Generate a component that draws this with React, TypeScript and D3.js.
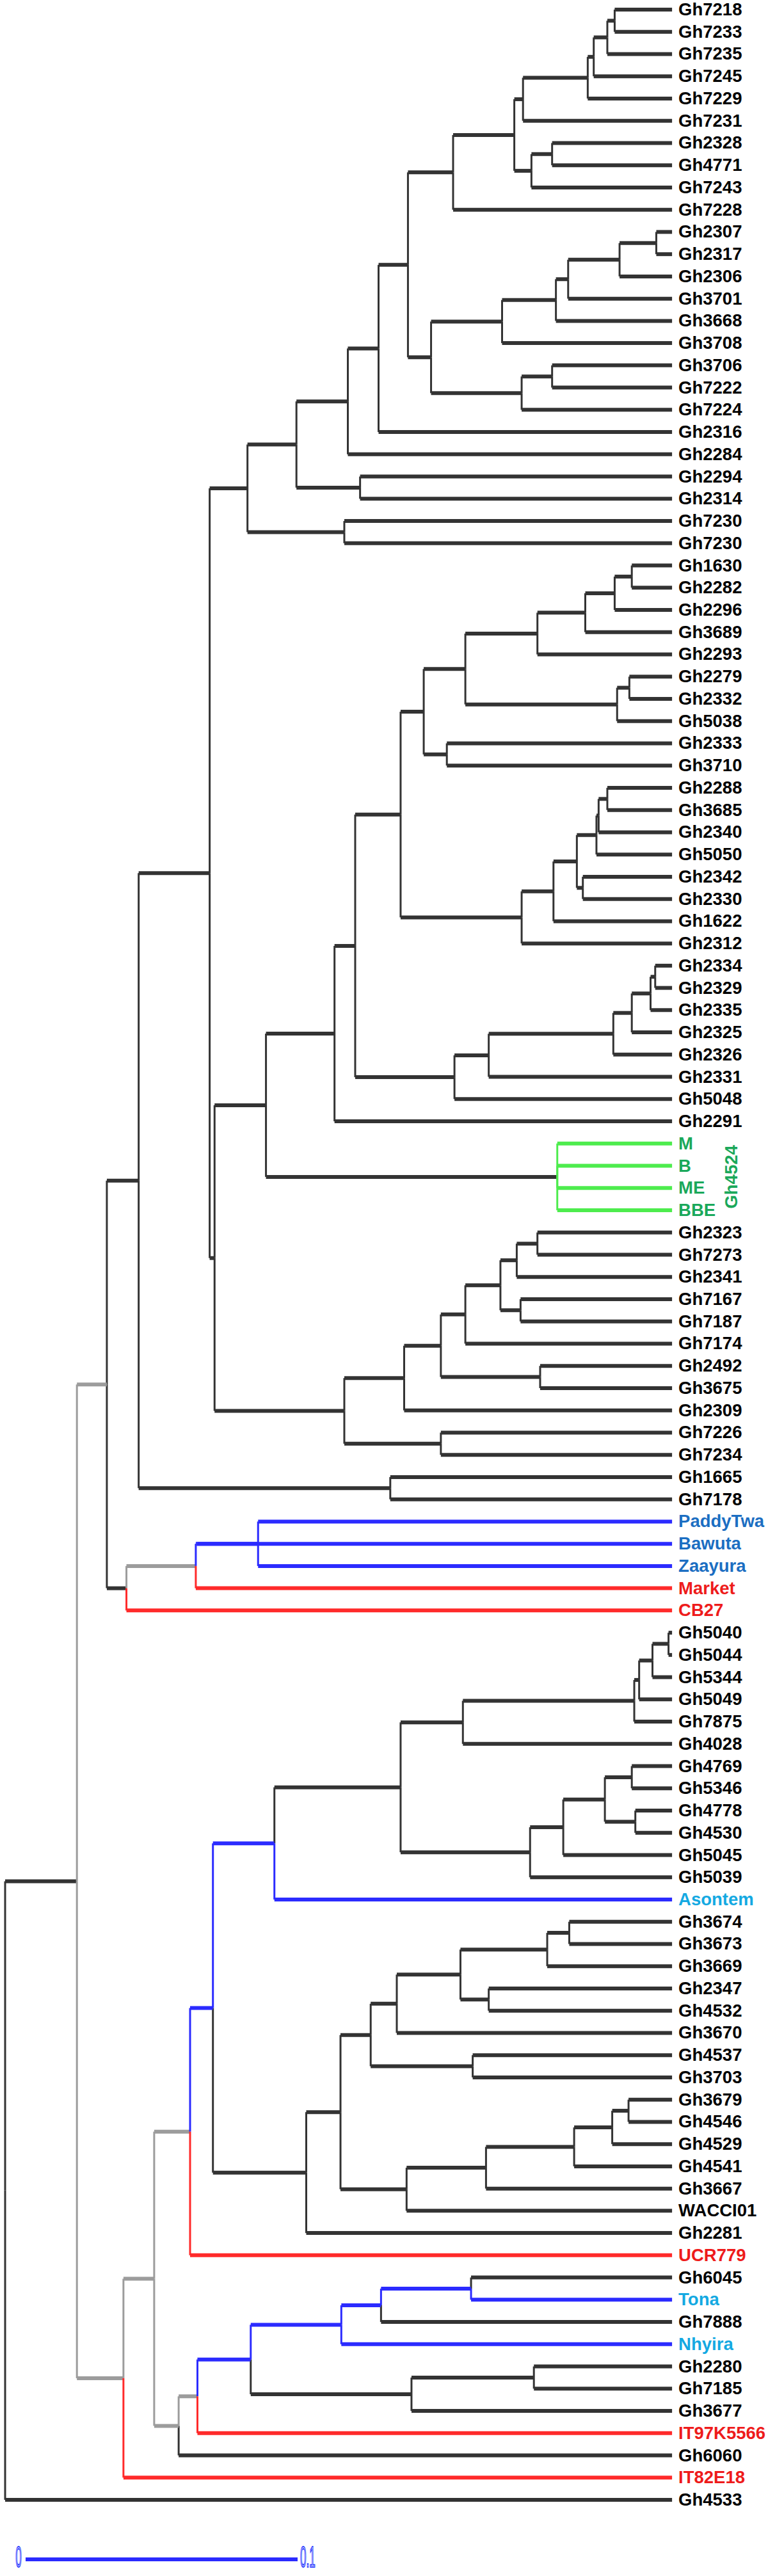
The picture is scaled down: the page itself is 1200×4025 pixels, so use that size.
import React from "react";
import * as d3 from "d3";

// ---- Leaf order (top to bottom) ----
const leafOrder: string[] = [
  "Gh7218", "Gh7233", "Gh7235", "Gh7245", "Gh7229", "Gh7231", "Gh2328", "Gh4771", "Gh7243", "Gh7228",
  "Gh2307", "Gh2317", "Gh2306", "Gh3701", "Gh3668", "Gh3708", "Gh3706", "Gh7222", "Gh7224", "Gh2316",
  "Gh2284", "Gh2294", "Gh2314", "Gh7230", "Gh7230", "Gh1630", "Gh2282", "Gh2296", "Gh3689", "Gh2293",
  "Gh2279", "Gh2332", "Gh5038", "Gh2333", "Gh3710", "Gh2288", "Gh3685", "Gh2340", "Gh5050", "Gh2342",
  "Gh2330", "Gh1622", "Gh2312", "Gh2334", "Gh2329", "Gh2335", "Gh2325", "Gh2326", "Gh2331", "Gh5048",
  "Gh2291", "M", "B", "ME", "BBE", "Gh2323", "Gh7273", "Gh2341", "Gh7167", "Gh7187",
  "Gh7174", "Gh2492", "Gh3675", "Gh2309", "Gh7226", "Gh7234", "Gh1665", "Gh7178", "PaddyTwa", "Bawuta",
  "Zaayura", "Market", "CB27", "Gh5040", "Gh5044", "Gh5344", "Gh5049", "Gh7875", "Gh4028", "Gh4769",
  "Gh5346", "Gh4778", "Gh4530", "Gh5045", "Gh5039", "Asontem", "Gh3674", "Gh3673", "Gh3669", "Gh2347",
  "Gh4532", "Gh3670", "Gh4537", "Gh3703", "Gh3679", "Gh4546", "Gh4529", "Gh4541", "Gh3667", "WACCI01",
  "Gh2281", "UCR779", "Gh6045", "Tona", "Gh7888", "Nhyira", "Gh2280", "Gh7185", "Gh3677", "IT97K5566",
  "Gh6060", "IT82E18", "Gh4533",
];

// ---- Internal nodes: [id, distance from root, children] ----
const internalNodes: [string, number, string[]][] = [
  ["_root", 0, ["_S", "Gh4533"]],
  ["_S", 0.0264, ["_O", "_k11"]],
  ["_O", 0.0374, ["_N", "_R"]],
  ["_N", 0.0491, ["_M", "_i1"]],
  ["_M", 0.0752, ["_c7", "_L"]],
  ["_c7", 0.0891, ["_c5", "_c6"]],
  ["_c5", 0.1071, ["_c3", "_c4"]],
  ["_c3", 0.126, ["_c2", "Gh2284"]],
  ["_c2", 0.1373, ["_c1", "Gh2316"]],
  ["_c1", 0.1481, ["_a9", "_b8"]],
  ["_a9", 0.1647, ["_a8", "Gh7228"]],
  ["_a8", 0.1872, ["_a5", "_a7"]],
  ["_a5", 0.1904, ["_a4", "Gh7231"]],
  ["_a4", 0.2142, ["_a3", "Gh7229"]],
  ["_a3", 0.2164, ["_a2", "Gh7245"]],
  ["_a2", 0.2214, ["_a1", "Gh7235"]],
  ["_a1", 0.2241, ["Gh7218", "Gh7233"]],
  ["_a7", 0.1935, ["_a6", "Gh7243"]],
  ["_a6", 0.2011, ["Gh2328", "Gh4771"]],
  ["_b8", 0.1566, ["_b5", "_b7"]],
  ["_b5", 0.1827, ["_b4", "Gh3708"]],
  ["_b4", 0.2025, ["_b3", "Gh3668"]],
  ["_b3", 0.207, ["_b2", "Gh3701"]],
  ["_b2", 0.2259, ["_b1", "Gh2306"]],
  ["_b1", 0.2394, ["Gh2307", "Gh2317"]],
  ["_b7", 0.1899, ["_b6", "Gh7224"]],
  ["_b6", 0.2011, ["Gh3706", "Gh7222"]],
  ["_c4", 0.1305, ["Gh2294", "Gh2314"]],
  ["_c6", 0.1247, ["Gh7230", "Gh7230"]],
  ["_L", 0.077, ["_f9", "_h10"]],
  ["_f9", 0.0959, ["_f8", "_g1"]],
  ["_f8", 0.1211, ["_f7", "Gh2291"]],
  ["_f7", 0.1287, ["_e8", "_f6"]],
  ["_e8", 0.1454, ["_d9", "_e7"]],
  ["_d9", 0.1539, ["_d7", "_d8"]],
  ["_d7", 0.1692, ["_d4", "_d6"]],
  ["_d4", 0.1957, ["_d3", "Gh2293"]],
  ["_d3", 0.2133, ["_d2", "Gh3689"]],
  ["_d2", 0.2241, ["_d1", "Gh2296"]],
  ["_d1", 0.2304, ["Gh1630", "Gh2282"]],
  ["_d6", 0.225, ["_d5", "Gh5038"]],
  ["_d5", 0.2295, ["Gh2279", "Gh2332"]],
  ["_d8", 0.1624, ["Gh2333", "Gh3710"]],
  ["_e7", 0.1899, ["_e6", "Gh2312"]],
  ["_e6", 0.2016, ["_e5", "Gh1622"]],
  ["_e5", 0.2102, ["_e3", "_e4"]],
  ["_e3", 0.2174, ["_e2", "Gh5050"]],
  ["_e2", 0.2182, ["_e1", "Gh2340"]],
  ["_e1", 0.2214, ["Gh2288", "Gh3685"]],
  ["_e4", 0.2124, ["Gh2342", "Gh2330"]],
  ["_f6", 0.1652, ["_f5", "Gh5048"]],
  ["_f5", 0.1778, ["_f4", "Gh2331"]],
  ["_f4", 0.2236, ["_f3", "Gh2326"]],
  ["_f3", 0.2304, ["_f2", "Gh2325"]],
  ["_f2", 0.2373, ["_f1", "Gh2335"]],
  ["_f1", 0.239, ["Gh2334", "Gh2329"]],
  ["_g1", 0.203, ["M", "B", "ME", "BBE"]],
  ["_h10", 0.1247, ["_h8", "_h9"]],
  ["_h8", 0.1467, ["_h7", "Gh2309"]],
  ["_h7", 0.1602, ["_h5", "_h6"]],
  ["_h5", 0.1692, ["_h4", "Gh7174"]],
  ["_h4", 0.1821, ["_h2", "_h3"]],
  ["_h2", 0.1881, ["_h1", "Gh2341"]],
  ["_h1", 0.1957, ["Gh2323", "Gh7273"]],
  ["_h3", 0.1895, ["Gh7167", "Gh7187"]],
  ["_h6", 0.1967, ["Gh2492", "Gh3675"]],
  ["_h9", 0.1602, ["Gh7226", "Gh7234"]],
  ["_i1", 0.1416, ["Gh1665", "Gh7178"]],
  ["_R", 0.0446, ["_Q", "CB27"]],
  ["_Q", 0.0701, ["_P", "Market"]],
  ["_P", 0.0705, ["_j1", "Bawuta"]],
  ["_j1", 0.093, ["PaddyTwa", "Zaayura"]],
  ["_k11", 0.0435, ["_k10", "IT82E18"]],
  ["_k10", 0.0548, ["_k9", "_o8"]],
  ["_k9", 0.068, ["_k8", "UCR779"]],
  ["_k8", 0.0764, ["_k7", "_m9"]],
  ["_k7", 0.099, ["_k6", "Asontem"]],
  ["_k6", 0.1454, ["_k5", "_l5"]],
  ["_k5", 0.1683, ["_k4", "Gh4028"]],
  ["_k4", 0.2313, ["_k3", "Gh7875"]],
  ["_k3", 0.2331, ["_k2", "Gh5049"]],
  ["_k2", 0.238, ["_k1", "Gh5344"]],
  ["_k1", 0.2439, ["Gh5040", "Gh5044"]],
  ["_l5", 0.193, ["_l4", "Gh5039"]],
  ["_l4", 0.2052, ["_l3", "Gh5045"]],
  ["_l3", 0.2205, ["_l1", "_l2"]],
  ["_l1", 0.2304, ["Gh4769", "Gh5346"]],
  ["_l2", 0.2317, ["Gh4778", "Gh4530"]],
  ["_m9", 0.1107, ["_m8", "Gh2281"]],
  ["_m8", 0.1233, ["_m7", "_n5"]],
  ["_m7", 0.1344, ["_m5", "_m6"]],
  ["_m5", 0.144, ["_m4", "Gh3670"]],
  ["_m4", 0.1674, ["_m2", "_m3"]],
  ["_m2", 0.1993, ["_m1", "Gh3669"]],
  ["_m1", 0.2074, ["Gh3674", "Gh3673"]],
  ["_m3", 0.1778, ["Gh2347", "Gh4532"]],
  ["_m6", 0.1719, ["Gh4537", "Gh3703"]],
  ["_n5", 0.1476, ["_n4", "WACCI01"]],
  ["_n4", 0.1768, ["_n3", "Gh3667"]],
  ["_n3", 0.2092, ["_n2", "Gh4541"]],
  ["_n2", 0.2232, ["_n1", "Gh4529"]],
  ["_n1", 0.2292, ["Gh3679", "Gh4546"]],
  ["_o8", 0.0638, ["_o7", "Gh6060"]],
  ["_o7", 0.0707, ["_o6", "IT97K5566"]],
  ["_o6", 0.0903, ["_o3", "_o5"]],
  ["_o3", 0.1236, ["_o2", "Nhyira"]],
  ["_o2", 0.1382, ["_o1", "Gh7888"]],
  ["_o1", 0.1713, ["Gh6045", "Tona"]],
  ["_o5", 0.1494, ["_o4", "Gh3677"]],
  ["_o4", 0.1944, ["Gh2280", "Gh7185"]],
];

const LEAF_DEPTH = 0.2452;

// ---- Branch colour groups (edge leading into the named node) ----
const blueEdges = ["_j1", "PaddyTwa", "Zaayura", "Bawuta", "_P", "Asontem", "_k7", "_k8", "_o6", "_o3", "Nhyira", "_o2", "_o1", "Tona"];
const redEdges = ["Market", "CB27", "UCR779", "IT97K5566", "IT82E18"];
const grayEdges = ["_Q", "_k9", "_k10", "_o8", "_o7", "_k11", "_O"];
const greenEdges = ["M", "B", "ME", "BBE"];

// ---- Label colour groups ----
const blueLabels = ["PaddyTwa", "Bawuta", "Zaayura"];
const cyanLabels = ["Asontem", "Tona", "Nhyira"];
const redLabels = ["Market", "CB27", "UCR779", "IT97K5566", "IT82E18"];
const greenLabels = ["M", "B", "ME", "BBE"];
const groupLabel = "Gh4524";

const scaleBarTicks = [0, 0.1];

const C = {
  black: "#333333",
  blue: "#2b2bff",
  red: "#ff2a2a",
  gray: "#9c9c9c",
  green: "#4dec4d",
  labelBlue: "#1b6ec2",
  labelCyan: "#14a9e2",
  labelRed: "#ee1b1b",
  labelGreen: "#1aa85a",
};

type TNode = { id: string; depth: number; children?: TNode[] };

export default function App() {
  const W = 1200;
  const H = 4025;
  const x = d3.scaleLinear().domain([0, 0.1]).range([8, 433]);
  const y = d3.scaleLinear().domain([0, leafOrder.length - 1]).range([15, 3906]);

  const defs = new Map(internalNodes.map(([id, d, ch]) => [id, { d, ch }]));
  const build = (id: string): TNode => {
    const def = defs.get(id);
    if (def) return { id, depth: def.d, children: def.ch.map(build) };
    return { id, depth: LEAF_DEPTH };
  };
  const root: any = d3.hierarchy<TNode>(build("_root"));

  const used = new Set<number>();
  root.leaves().forEach((l: any) => {
    const idx = leafOrder.findIndex((n, i) => n === l.data.id && !used.has(i));
    used.add(idx);
    l.py = y(idx);
  });
  root.eachAfter((n: any) => {
    if (n.children) n.py = d3.mean(n.children, (c: any) => c.py);
    n.px = x(n.data.depth);
  });

  const edgeColor = (id: string) =>
    blueEdges.includes(id) ? C.blue :
    redEdges.includes(id) ? C.red :
    grayEdges.includes(id) ? C.gray :
    greenEdges.includes(id) ? C.green : C.black;

  const labelColor = (id: string) =>
    blueLabels.includes(id) ? C.labelBlue :
    cyanLabels.includes(id) ? C.labelCyan :
    redLabels.includes(id) ? C.labelRed :
    greenLabels.includes(id) ? C.labelGreen : "#000";

  const links = root.links();
  const rank = (col: string) => (col === C.black ? 0 : col === C.gray ? 1 : 2);
  const sorted = [...links].sort(
    (a: any, b: any) => rank(edgeColor(a.target.data.id)) - rank(edgeColor(b.target.data.id))
  );

  const labelX = x(LEAF_DEPTH) + 10;
  const font = "'Liberation Sans', Arial, Helvetica, sans-serif";
  const groupNode = root.descendants().find((n: any) => n.data.id === "_g1");

  const barY = 3999;
  const barX0 = 40;
  const barScale = d3.scaleLinear().domain([0, 0.1]).range([barX0, barX0 + (x(0.1) - x(0))]);

  return (
    <div>
      <style>{"body{margin:0;background:#fff}"}</style>
      <svg width={W} height={H} style={{ display: "block" }}>
        <rect width={W} height={H} fill="#fff" />
        <g>
          {sorted.map((lk: any, i: number) => {
            const col = edgeColor(lk.target.data.id);
            return (
              <g key={i}>
                <line x1={lk.source.px} x2={lk.source.px} y1={lk.source.py} y2={lk.target.py}
                  stroke={col} strokeWidth={3} />
                <line x1={lk.source.px} x2={lk.target.px} y1={lk.target.py} y2={lk.target.py}
                  stroke={col} strokeWidth={6} />
              </g>
            );
          })}
        </g>
        <g fontFamily={font} fontWeight="bold" fontSize={27.5}>
          {root.leaves().map((l: any, i: number) => (
            <text key={i} x={labelX} y={l.py + 9} fill={labelColor(l.data.id)}>
              {l.data.id}
            </text>
          ))}
          {groupNode && (
            <text
              transform={`translate(${labelX + 92},${groupNode.py}) rotate(-90)`}
              textAnchor="middle"
              fill={C.labelGreen}
            >
              {groupLabel}
            </text>
          )}
        </g>
        <g>
          <line x1={barScale(0)} x2={barScale(0.1)} y1={barY} y2={barY} stroke={C.blue} strokeWidth={6} />
          {scaleBarTicks.map((t, i) => (
            <text
              key={i}
              transform={`translate(${i === 0 ? barScale(t) - 11 : barScale(t) + 4},4011) scale(0.37,1)`}
              textAnchor={i === 0 ? "middle" : "start"}
              fontFamily={font}
              fontSize={46}
              fill="#e4e4ff"
              stroke="#3344ff"
              strokeWidth={2.2}
            >
              {String(t)}
            </text>
          ))}
        </g>
      </svg>
    </div>
  );
}
